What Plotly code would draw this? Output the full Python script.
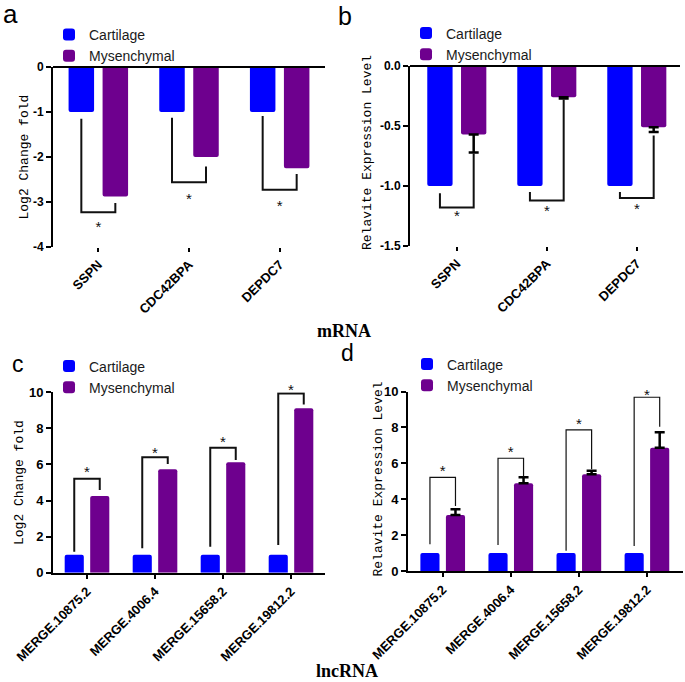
import plotly.graph_objects as go

# ---------------- data ----------------
series_names = ["Cartilage", "Mysenchymal"]

a_categories = ["SSPN", "CDC42BPA", "DEPDC7"]
a_cartilage = [-1.0, -1.0, -1.0]
a_mysenchymal = [-2.88, -2.0, -2.25]
a_br_left = [-1.15, -1.13, -1.09]
a_br_level = [-3.23, -2.56, -2.73]
a_br_right = [-3.02, -2.21, -2.38]
a_star = [-3.58, -2.96, -3.11]
a_yticks = [0, -1, -2, -3, -4]
a_yticklabels = ["0", "-1", "-2", "-3", "-4"]

b_categories = ["SSPN", "CDC42BPA", "DEPDC7"]
b_cartilage = [-1.0, -1.0, -1.0]
b_mysenchymal = [-0.57, -0.26, -0.51]
b_mys_err = [0.15, 0.01, 0.04]
b_br_left = [-1.06, -1.05, -1.05]
b_br_level = [-1.18, -1.12, -1.10]
b_br_right = [-0.73, -0.28, -0.58]
b_star = [-1.26, -1.22, -1.20]
b_yticks = [0, -0.5, -1.0, -1.5]
b_yticklabels = ["0.0", "-0.5", "-1.0", "-1.5"]

c_categories = ["MERGE.10875.2", "MERGE.4006.4", "MERGE.15658.2", "MERGE.19812.2"]
c_cartilage = [1.0, 1.0, 1.0, 1.0]
c_mysenchymal = [4.25, 5.73, 6.12, 9.11]
c_br_left = [1.16, 1.35, 1.44, 1.53]
c_br_level = [5.21, 6.40, 6.93, 9.94]
c_br_right = [4.58, 6.03, 6.25, 9.33]
c_star = [5.49, 6.56, 7.16, 10.08]

d_categories = ["MERGE.10875.2", "MERGE.4006.4", "MERGE.15658.2", "MERGE.19812.2"]
d_cartilage = [1.0, 1.0, 1.0, 1.0]
d_mysenchymal = [3.12, 4.89, 5.39, 6.87]
d_mys_err = [0.32, 0.33, 0.20, 0.86]
d_br_left = [1.49, 1.45, 1.13, 1.39]
d_br_level = [5.22, 6.28, 7.86, 9.68]
d_br_right = [3.62, 5.25, 5.67, 8.04]
d_star = [5.49, 6.56, 8.14, 9.75]
cd_yticks = [0, 2, 4, 6, 8, 10]

y_titles = ["Log2 Change fold", "Relavite Expression Level", "Log2 Change fold", "Relavite Expression Level"]

# ---------------- style ----------------
BLUE = "#0000FF"
PURPLE = "#6E008E"
BARGAP = 0.25
BARGROUPGAP = 0.25
OFFSET = (1 - BARGAP) / 4  # centre of each bar within its group

W, H = 685, 682


def px_x(p):
    return p / W


def px_y(p):
    return 1 - p / H


# pixel frames of the four plot areas: (left, right, bottom, top)
frame_a = (53, 325, 247, 67)
frame_b = (410, 680, 246, 66)
frame_c = (53, 325, 572.7, 392.3)
frame_d = (408, 683, 571, 391.5)

fig = go.Figure()

panels = [
    dict(ax="", sax="", cats=a_categories, cart=a_cartilage, mys=a_mysenchymal, err=None,
         bl=a_br_left, lv=a_br_level, br=a_br_right, star=a_star, lw=2, legend="legend"),
    dict(ax="2", sax="2", cats=b_categories, cart=b_cartilage, mys=b_mysenchymal, err=b_mys_err,
         bl=b_br_left, lv=b_br_level, br=b_br_right, star=b_star, lw=2, legend="legend2"),
    dict(ax="3", sax="5", cats=c_categories, cart=c_cartilage, mys=c_mysenchymal, err=None,
         bl=c_br_left, lv=c_br_level, br=c_br_right, star=c_star, lw=2, legend="legend3"),
    dict(ax="4", sax="4", cats=d_categories, cart=d_cartilage, mys=d_mysenchymal, err=d_mys_err,
         bl=d_br_left, lv=d_br_level, br=d_br_right, star=d_star, lw=1.2, legend="legend4"),
]

for p in panels:
    xa, ya = "x" + p["ax"], "y" + p["ax"]
    idx = list(range(len(p["cats"])))
    fig.add_trace(go.Bar(x=idx, y=p["cart"], name=series_names[0], marker_color=BLUE,
                         marker_line_width=0, marker_cornerradius=2,
                         xaxis=xa, yaxis=ya, legend=p["legend"]))
    err = None
    if p["err"] is not None:
        neg = p["mys"][0] < 0
        err = dict(type="data", symmetric=False,
                   array=[0] * len(idx) if neg else p["err"],
                   arrayminus=p["err"] if neg else [0] * len(idx),
                   color="black", thickness=2.5, width=5)
    fig.add_trace(go.Bar(x=idx, y=p["mys"], name=series_names[1], marker_color=PURPLE,
                         marker_line_width=0, marker_cornerradius=2, error_y=err,
                         xaxis=xa, yaxis=ya, legend=p["legend"]))
    # significance brackets
    bx, by = [], []
    for i in idx:
        bx += [i - OFFSET, i - OFFSET, i + OFFSET, i + OFFSET, None]
        by += [p["bl"][i], p["lv"][i], p["lv"][i], p["br"][i], None]
    fig.add_trace(go.Scatter(x=bx, y=by, mode="lines", line=dict(color="#111", width=p["lw"]),
                             showlegend=False, hoverinfo="skip", xaxis=xa, yaxis=ya,
                             cliponaxis=False))
    fig.add_trace(go.Scatter(x=idx, y=p["star"], mode="text", text=["*"] * len(idx),
                             textposition="middle center",
                             textfont=dict(family="Arial", size=15, color="#111"),
                             showlegend=False, hoverinfo="skip", xaxis=xa, yaxis="y" + p["sax"],
                             cliponaxis=False))

tickfont = dict(family="Arial", size=12, color="black", weight="bold")
xtickfont = dict(family="Arial", size=13, color="black", weight="bold")
tickfont_cd = dict(family="Arial", size=13, color="black", weight="bold")
titlefont = dict(family="Liberation Mono", size=13, color="black")

common_y = dict(showline=True, linewidth=2, linecolor="black", ticks="outside", ticklen=5,
                tickwidth=2, tickcolor="black", showgrid=False, automargin=False)
common_x = dict(ticks="outside", ticklen=4, tickwidth=2, tickcolor="black", showgrid=False,
                zeroline=False, tickangle=-45, tickfont=xtickfont, automargin=False)


def xdom(f):
    return [px_x(f[0]), px_x(f[1])]


def ydom(f):
    return [px_y(f[2]), px_y(f[3])]


# invisible axis for the stars of panel c: same pixel scale as yaxis3, taller frame
c_star_top_px = 375.0
c_star_range_top = 10 * (frame_c[2] - c_star_top_px) / (frame_c[2] - frame_c[3])

fig.update_layout(
    width=W, height=H, margin=dict(l=0, r=0, t=0, b=0, autoexpand=False),
    paper_bgcolor="white", plot_bgcolor="rgba(0,0,0,0)",
    barmode="group", bargap=BARGAP, bargroupgap=BARGROUPGAP,
    font=dict(family="Arial", color="black"),
    # panel a
    xaxis=dict(domain=xdom(frame_a), range=[-0.5, 2.5], tickvals=[0, 1, 2],
               ticktext=a_categories, showline=False, anchor="y", **common_x),
    yaxis=dict(domain=ydom(frame_a), range=[-4, 0], tickvals=a_yticks,
               ticktext=a_yticklabels, zeroline=True, zerolinecolor="black", zerolinewidth=2,
               tickfont=tickfont, anchor="x", **common_y),
    # panel b
    xaxis2=dict(domain=xdom(frame_b), range=[-0.52, 2.48], tickvals=[0, 1, 2],
                ticktext=b_categories, showline=False, anchor="y2", **common_x),
    yaxis2=dict(domain=ydom(frame_b), range=[-1.5, 0], tickvals=b_yticks,
                ticktext=b_yticklabels, zeroline=True, zerolinecolor="black", zerolinewidth=2,
                tickfont=tickfont, anchor="x2", **common_y),
    # panel c
    xaxis3=dict(domain=xdom(frame_c), range=[-0.5, 3.5], tickvals=[0, 1, 2, 3],
                ticktext=c_categories, showline=True, linewidth=2, linecolor="black",
                anchor="y3", **common_x),
    yaxis3=dict(domain=ydom(frame_c), range=[0, 10], tickvals=cd_yticks,
                zeroline=False, tickfont=tickfont_cd, anchor="x3", **common_y),
    # panel d
    xaxis4=dict(domain=xdom(frame_d), range=[-0.51, 3.53], tickvals=[0, 1, 2, 3],
                ticktext=d_categories, showline=True, linewidth=2, linecolor="black",
                anchor="y4", **common_x),
    yaxis4=dict(domain=ydom(frame_d), range=[0, 10], tickvals=cd_yticks,
                zeroline=False, tickfont=tickfont_cd, anchor="x4", **common_y),
    yaxis5=dict(domain=[px_y(frame_c[2]), px_y(c_star_top_px)], range=[0, c_star_range_top],
                visible=False, anchor="x3", automargin=False, showgrid=False, zeroline=False),
)

# y-axis titles
for txt, x, y in zip(y_titles, [23.5, 367.5, 19.5, 377.5], [157, 152.5, 482.5, 479]):
    fig.add_annotation(text=txt, x=px_x(x), y=px_y(y), xref="paper", yref="paper", showarrow=False,
                       textangle=-90, xanchor="center", yanchor="middle", font=titlefont)

legfont = dict(family="Arial", size=14, color="#1a1a1a")
for name, lx, ly in [("legend", 49, 19), ("legend2", 406, 17.5), ("legend3", 49, 350.5), ("legend4", 407, 348.5)]:
    fig.update_layout({name: dict(x=px_x(lx), y=px_y(ly), xanchor="left", yanchor="top",
                                  bgcolor="rgba(0,0,0,0)", font=legfont, traceorder="normal")})

# panel letters and section labels
for txt, x, y, s, anc in [("a", 10, 14, 26, "middle"), ("b", 345, 0, 25, "top"),
                          ("c", 18, 364, 23, "middle"), ("d", 347, 353, 23, "middle")]:
    fig.add_annotation(text=txt, x=px_x(x), y=px_y(y), xref="paper", yref="paper", showarrow=False,
                       xanchor="center", yanchor=anc, font=dict(family="Arial", size=s, color="black"))
for txt, x, y in [("mRNA", 344, 331), ("lncRNA", 347, 671)]:
    fig.add_annotation(text="<b>" + txt + "</b>", x=px_x(x), y=px_y(y), xref="paper", yref="paper",
                       showarrow=False, xanchor="center", yanchor="middle",
                       font=dict(family="Liberation Serif", size=18, color="black"))

try:
    fig.update_yaxes(zerolinelayer="above traces")
except Exception:
    pass

fig.write_html("out.html", config={"displayModeBar": False},
               post_script="document.body.style.margin='0px';document.body.style.padding='0px';")
